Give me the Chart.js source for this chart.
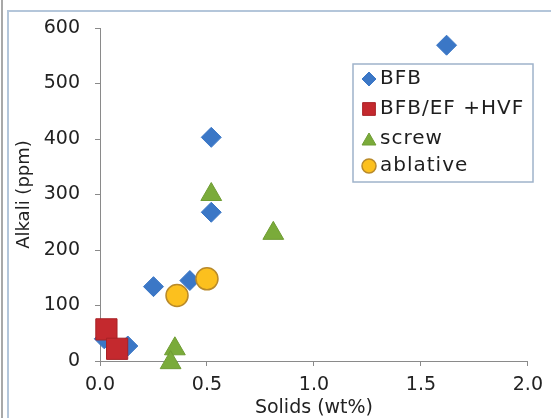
<!DOCTYPE html>
<html>
<head>
<meta charset="utf-8">
<script src="https://cdn.jsdelivr.net/npm/chart.js@4/dist/chart.umd.min.js"></script>
<style>
    html, body { margin: 0; padding: 0; background: #fff; overflow: hidden; }
    body { width: 551px; height: 418px; position: relative; }
    #edge  { position: absolute; left: 1px; top: 0; width: 2px; height: 418px; background: #a8a8a8; }
    #frame { position: absolute; left: 7px; top: 10px; width: 544px; height: 408px;
             border-left: 2px solid #b4c6da; border-top: 2px solid #b4c6da;
             box-sizing: border-box; background: #fff; }
    #chart { position: absolute; left: 0; top: 0; }
</style>
</head>
<body>
<div id="edge"></div>
<div id="frame"></div>
<canvas id="chart" width="551" height="418"></canvas>
<script>
// valores
const seriesNames = ['BFB', 'BFB/EF +HVF', 'screw', 'ablative'];

const bfbX   = [1.62, 0.52, 0.52, 0.42, 0.25, 0.13, 0.02];
const bfbY   = [569, 403, 268, 145, 134, 27, 40];
const hvfX   = [0.03, 0.08];
const hvfY   = [57, 22];
const screwX = [0.52, 0.81, 0.35, 0.33];
const screwY = [300, 230, 22, -3];
const ablX   = [0.36, 0.50];
const ablY   = [118, 148];

const xTicks = [0, 0.5, 1.0, 1.5, 2.0];
const yTicks = [0, 100, 200, 300, 400, 500, 600];

const FONT = 'DejaVu Sans';
const AXIS = '#8a8a8a';

function pts(xs, ys) {
    return xs.map((x, i) => ({ x, y: ys[i] }));
}

const styles = [
    { pointStyle: 'rectRot',  radius: 10, fill: '#3b77c6', stroke: '#3b77c6', bw: 1 },
    { pointStyle: 'rect',     radius: 15, fill: '#c4292e', stroke: '#a82226', bw: 1 },
    { pointStyle: 'triangle', radius: 12, fill: '#7aab3a', stroke: '#6f9c33', bw: 1 },
    { pointStyle: 'circle',   radius: 11, fill: '#fcc01e', stroke: '#b98a2a', bw: 1.5 },
];

// leyenda dibujada dentro del área
const boxLegend = {
    id: 'boxLegend',
    afterDraw(chart) {
        const ctx = chart.ctx;
        ctx.save();
        ctx.fillStyle = '#fff';
        ctx.strokeStyle = '#9fb3ca';
        ctx.lineWidth = 1.5;
        ctx.fillRect(353, 64, 180, 118);
        ctx.strokeRect(353, 64, 180, 118);

        const rows  = [79, 109, 139, 166];
        const mk    = [
            { pointStyle: 'rectRot',  radius: 7 },
            { pointStyle: 'rect',     radius: 9 },
            { pointStyle: 'triangle', radius: 8 },
            { pointStyle: 'circle',   radius: 7 },
        ];
        const dy = [0, 0, 2, 0];
        seriesNames.forEach((name, i) => {
            ctx.fillStyle = styles[i].fill;
            ctx.strokeStyle = styles[i].stroke;
            ctx.lineWidth = styles[i].bw;
            Chart.helpers.drawPoint(ctx, { ...mk[i], rotation: 0, borderWidth: styles[i].bw },
                369, rows[i] + dy[i]);
        });

        ctx.fillStyle = '#1e1e1e';
        ctx.font = '20px "' + FONT + '"';
        ctx.textBaseline = 'middle';
        ctx.textAlign = 'left';
        ctx.letterSpacing = '1px';
        seriesNames.forEach((name, i) => ctx.fillText(name, 380, rows[i]));
        ctx.restore();
    }
};

const allX = [bfbX, hvfX, screwX, ablX];
const allY = [bfbY, hvfY, screwY, ablY];

new Chart(document.getElementById('chart').getContext('2d'), {
    type: 'scatter',
    data: {
        datasets: seriesNames.map((name, i) => ({
            label: name,
            data: pts(allX[i], allY[i]),
            pointStyle: styles[i].pointStyle,
            pointRadius: styles[i].radius,
            pointHoverRadius: styles[i].radius,
            backgroundColor: styles[i].fill,
            borderColor: styles[i].stroke,
            pointBorderWidth: styles[i].bw,
            order: i === 0 ? 1 : 0,
            clip: false,
        }))
    },
    options: {
        responsive: false,
        animation: false,
        events: [],
        layout: { padding: { left: 0, right: 18, top: 28, bottom: 0 } },
        plugins: {
            legend: { display: false },
            tooltip: { enabled: false }
        },
        scales: {
            x: {
                type: 'linear',
                min: 0, max: 2,
                afterBuildTicks: s => { s.ticks = xTicks.map(v => ({ value: v })); },
                afterFit: s => { s.height = 57; },
                ticks: {
                    callback: v => v.toFixed(1),
                    font: { family: FONT, size: 19 },
                    color: '#222',
                    padding: 8,
                    maxRotation: 0,
                },
                grid: { drawOnChartArea: false, tickLength: 5, color: AXIS },
                border: { color: AXIS, width: 1 },
                title: {
                    display: true,
                    text: 'Solids (wt%)',
                    font: { family: FONT, size: 19, lineHeight: 1 },
                    color: '#222',
                    padding: 0,
                }
            },
            y: {
                type: 'linear',
                min: 0, max: 600,
                afterBuildTicks: s => { s.ticks = yTicks.map(v => ({ value: v })); },
                afterFit: s => { s.width = 100; },
                ticks: {
                    font: { family: FONT, size: 19 },
                    color: '#222',
                    padding: 15,
                },
                grid: { drawOnChartArea: false, tickLength: 5, color: AXIS },
                border: { color: AXIS, width: 1 },
                title: {
                    display: true,
                    text: 'Alkali (ppm)',
                    font: { family: FONT, size: 18, lineHeight: 1 },
                    color: '#222',
                    padding: { top: 15, bottom: 0 },
                }
            }
        }
    },
    plugins: [boxLegend]
});
</script>
</body>
</html>
